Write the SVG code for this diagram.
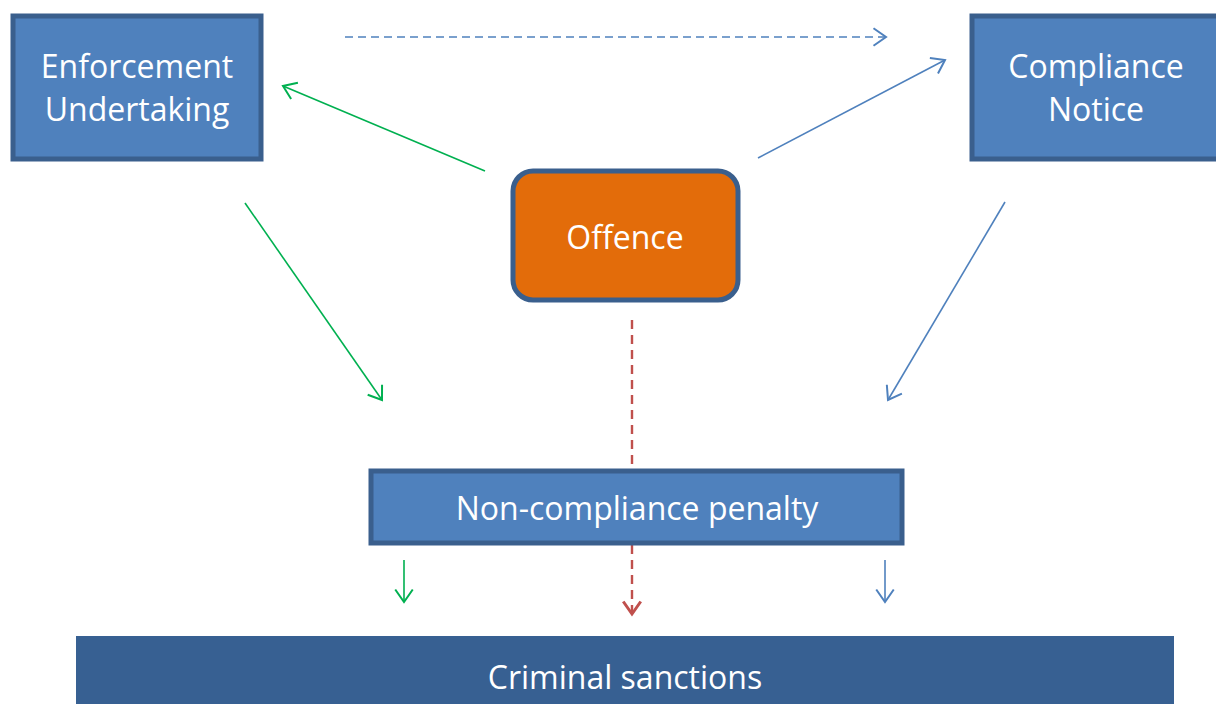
<svg xmlns="http://www.w3.org/2000/svg" width="1216" height="704" viewBox="0 0 1216 704">
<style>
.box{fill:#4F81BD;stroke:#3A5F8D;stroke-width:5}
.lbl{font-family:"Open Sans","Liberation Sans",sans-serif;font-size:32px;fill:#FFFFFF;text-anchor:middle}
.c{fill:none;stroke-width:1.6}
.g{stroke:#00B050}
.b{stroke:#4F81BD}
.r{stroke:#C0504D}
</style>
<defs>
<marker id="ag" markerUnits="userSpaceOnUse" markerWidth="20" markerHeight="20" viewBox="-12 -8 14 16" refX="0" refY="0" orient="auto"><path d="M-10,-7 L0,0 L-10,7" fill="none" stroke="#00B050" stroke-width="1.6"/></marker>
<marker id="ab" markerUnits="userSpaceOnUse" markerWidth="20" markerHeight="20" viewBox="-12 -8 14 16" refX="0" refY="0" orient="auto"><path d="M-10,-7 L0,0 L-10,7" fill="none" stroke="#4F81BD" stroke-width="1.6"/></marker>
<marker id="ar" markerUnits="userSpaceOnUse" markerWidth="20" markerHeight="20" viewBox="-12 -8 14 16" refX="0" refY="0" orient="auto"><path d="M-10,-7 L0,0 L-10,7" fill="none" stroke="#C0504D" stroke-width="2.4"/></marker>
</defs>
<rect width="1216" height="704" fill="#FFFFFF"/>
<g id="connectors">
<line class="c b" x1="345" y1="37" x2="886" y2="37" stroke-dasharray="8,5" marker-end="url(#ab)"/>
<line class="c g" x1="485" y1="171" x2="283" y2="86" marker-end="url(#ag)"/>
<line class="c b" x1="758" y1="158" x2="945" y2="60" marker-end="url(#ab)"/>
<line class="c g" x1="245" y1="203" x2="382" y2="400" marker-end="url(#ag)"/>
<line class="c b" x1="1005" y1="202" x2="888" y2="400" marker-end="url(#ab)"/>
<line class="c r" x1="632" y1="320" x2="632" y2="614" style="stroke-width:2.4" stroke-dasharray="9,6" marker-end="url(#ar)"/>
<line class="c g" x1="404" y1="560" x2="404" y2="602" marker-end="url(#ag)"/>
<line class="c b" x1="885" y1="560" x2="885" y2="602" marker-end="url(#ab)"/>
</g>
<g id="enforcement">
<rect class="box" x="13" y="16" width="248" height="143"/>
<text class="lbl" x="137" y="78">Enforcement</text>
<text class="lbl" x="137" y="121">Undertaking</text>
</g>
<g id="compliance">
<rect class="box" x="972" y="16" width="250" height="143"/>
<text class="lbl" x="1096" y="78">Compliance</text>
<text class="lbl" x="1096" y="121">Notice</text>
</g>
<g id="offence">
<rect x="513" y="171" width="225" height="129" rx="20" fill="#E36C0A" stroke="#3A5F8D" stroke-width="5"/>
<text class="lbl" x="625" y="249">Offence</text>
</g>
<g id="penalty">
<rect class="box" x="371" y="471" width="531" height="72"/>
<text class="lbl" x="637" y="520">Non-compliance penalty</text>
</g>
<g id="criminal">
<rect x="76" y="636" width="1098" height="80" fill="#376092"/>
<text class="lbl" x="625" y="689">Criminal sanctions</text>
</g>
</svg>
